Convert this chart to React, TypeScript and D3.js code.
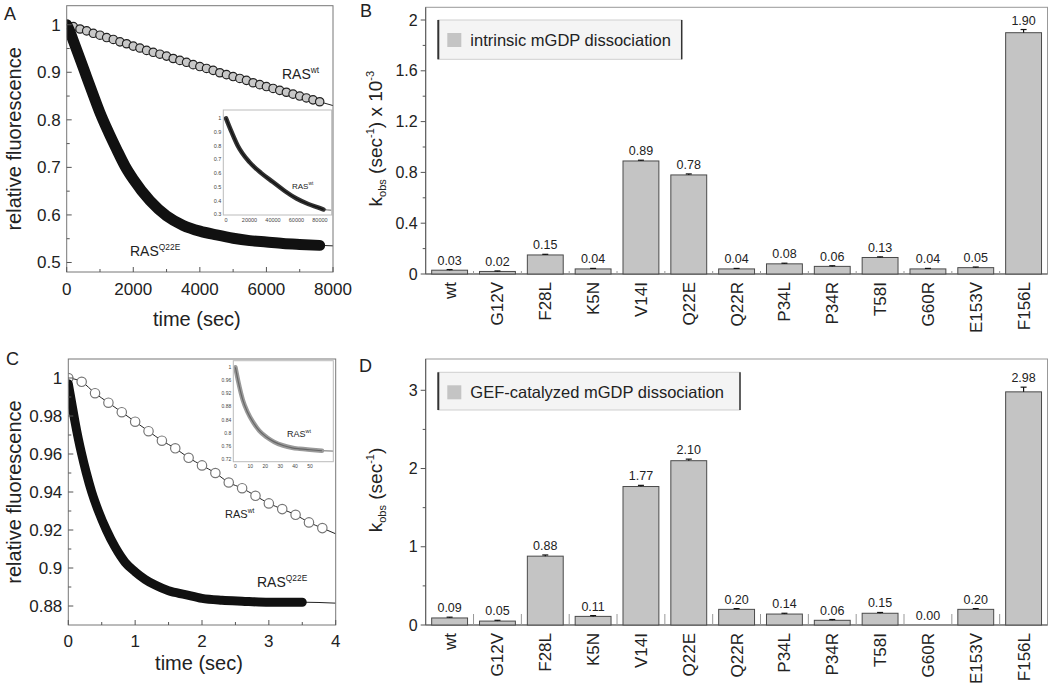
import React from "react";
import * as d3 from "d3";

const FONT = "'Liberation Sans', Arial, Helvetica, sans-serif";
const INK = "#222";

// ---- panel A: intrinsic mGDP dissociation traces ----
const aWtTime = [0, 200, 400, 600, 800, 1000, 1200, 1400, 1600, 1800, 2000, 2200, 2400, 2600, 2800, 3000, 3200, 3400, 3600, 3800, 4000, 4200, 4400, 4600, 4800, 5000, 5200, 5400, 5600, 5800, 6000, 6200, 6400, 6600, 6800, 7000, 7200, 7400, 7600];
const aWtValue = [1.0, 0.996, 0.991, 0.987, 0.982, 0.978, 0.973, 0.969, 0.964, 0.96, 0.955, 0.951, 0.946, 0.942, 0.938, 0.934, 0.929, 0.925, 0.921, 0.916, 0.912, 0.908, 0.904, 0.899, 0.895, 0.891, 0.887, 0.883, 0.878, 0.874, 0.87, 0.866, 0.862, 0.858, 0.854, 0.85, 0.846, 0.842, 0.838];
const aWtFitEnd = [8000, 0.83];

const aQ22ETime = [0, 100, 200, 400, 600, 800, 1000, 1250, 1500, 1750, 2000, 2500, 3000, 3500, 4000, 4500, 5000, 5500, 6000, 6500, 7000, 7600];
const aQ22EValue = [1.0, 0.985, 0.966, 0.928, 0.89, 0.852, 0.815, 0.775, 0.738, 0.703, 0.675, 0.63, 0.598, 0.578, 0.566, 0.558, 0.551, 0.546, 0.543, 0.54, 0.538, 0.536];
const aQ22EFitEnd = [8000, 0.535];

// inset of A: wt over the long run
const aInsetTime = [0, 5000, 10000, 20000, 30000, 40000, 50000, 60000, 70000, 80000, 83000];
const aInsetValue = [1.0, 0.895, 0.8, 0.68, 0.6, 0.535, 0.47, 0.415, 0.375, 0.345, 0.335];

// ---- panel C: GEF-catalyzed traces ----
const cWtTime = [0, 0.2, 0.4, 0.6, 0.8, 1.0, 1.2, 1.4, 1.6, 1.8, 2.0, 2.2, 2.4, 2.6, 2.8, 3.0, 3.2, 3.4, 3.6, 3.8];
const cWtValue = [1.0, 0.998, 0.992, 0.987, 0.982, 0.977, 0.972, 0.967, 0.963, 0.958, 0.954, 0.95, 0.945, 0.942, 0.938, 0.934, 0.931, 0.928, 0.924, 0.921];
const cWtFitEnd = [4, 0.918];

const cQ22ETime = [0, 0.03, 0.06, 0.1, 0.15, 0.2, 0.27, 0.35, 0.45, 0.57, 0.7, 0.85, 1.0, 1.15, 1.3, 1.5, 1.75, 2.0, 2.3, 2.6, 3.0, 3.5];
const cQ22EValue = [0.997, 0.991, 0.985, 0.977, 0.968, 0.96, 0.95, 0.94, 0.93, 0.92, 0.911, 0.903, 0.898, 0.894, 0.891, 0.888, 0.886, 0.884, 0.883, 0.8825, 0.882, 0.882];
const cQ22EFitEnd = [4, 0.8815];

const cInsetTime = [0, 2, 5, 8, 12, 16, 21, 26, 32, 38, 43, 50, 58];
const cInsetValue = [1.0, 0.955, 0.9, 0.865, 0.832, 0.807, 0.787, 0.773, 0.762, 0.755, 0.752, 0.749, 0.746];

// ---- panels B and D: rate constants ----
const mutants = ["wt", "G12V", "F28L", "K5N", "V14I", "Q22E", "Q22R", "P34L", "P34R", "T58I", "G60R", "E153V", "F156L"];
const intrinsicK = [0.03, 0.02, 0.15, 0.04, 0.89, 0.78, 0.04, 0.08, 0.06, 0.13, 0.04, 0.05, 1.9];
const intrinsicErr = [0.005, 0.004, 0.005, 0.004, 0.006, 0.008, 0.004, 0.005, 0.005, 0.005, 0.004, 0.005, 0.025];
const intrinsicLabels = ["0.03", "0.02", "0.15", "0.04", "0.89", "0.78", "0.04", "0.08", "0.06", "0.13", "0.04", "0.05", "1.90"];
const gefK = [0.09, 0.05, 0.88, 0.11, 1.77, 2.1, 0.2, 0.14, 0.06, 0.15, 0.0, 0.2, 2.98];
const gefErr = [0.01, 0.01, 0.015, 0.01, 0.015, 0.02, 0.01, 0.01, 0.01, 0.01, 0, 0.01, 0.06];
const gefLabels = ["0.09", "0.05", "0.88", "0.11", "1.77", "2.10", "0.20", "0.14", "0.06", "0.15", "0.00", "0.20", "2.98"];

type Pt = [number, number];
const zip = (t: number[], v: number[]): Pt[] => t.map((d, i) => [d, v[i]] as Pt);
const trim = (v: number) => String(+v.toFixed(3));

function Ras({ x, y, size, sup }: { x: number; y: number; size: number; sup: string }) {
  return (
    <text x={x} y={y} fontSize={size} fill={INK}>
      RAS
      <tspan fontSize={size * 0.6} dy={-size * 0.45}>{sup}</tspan>
    </text>
  );
}

function Inset(p: any) {
  const x = d3.scaleLinear().domain(p.xDomain).range([p.left, p.right]);
  const y = d3.scaleLinear().domain(p.yDomain).range([p.bottom, p.top]);
  const line = d3.line<Pt>().x((d) => x(d[0])).y((d) => y(d[1])).curve(d3.curveMonotoneX);
  const pts = zip(p.time, p.value);
  const clipId = "inset" + p.id;
  return (
    <g>
      <defs>
        <clipPath id={clipId}>
          <rect x={p.left} y={p.top} width={p.right - p.left} height={p.bottom - p.top} />
        </clipPath>
      </defs>
      <rect x={p.left} y={p.top} width={p.right - p.left} height={p.bottom - p.top} fill="#fff" />
      <g clipPath={`url(#${clipId})`}>
        <path d={line([...pts, [p.xDomain[1], p.tail]])!} fill="none" stroke="#444" strokeWidth={0.8} />
        <path d={line(pts)!} fill="none" stroke={p.color} strokeWidth={p.width} strokeLinecap="round" />
        <path d={line(pts)!} fill="none" stroke={p.core} strokeWidth={1.2} />
      </g>
      <rect x={p.left} y={p.top} width={p.right - p.left} height={p.bottom - p.top} fill="none" stroke="#bbb" strokeWidth={1} />
      {p.yTicks.map((t: number) => (
        <text key={t} x={p.left - 2} y={y(t)} dy="0.35em" textAnchor="end" fontSize={p.font} fill="#444">{trim(t)}</text>
      ))}
      {p.xTicks.map((t: number) => (
        <text key={t} x={x(t)} y={p.bottom + p.font + 1} textAnchor="middle" fontSize={p.font} fill="#444">{t}</text>
      ))}
      <Ras x={p.labelX} y={p.labelY} size={p.labelSize} sup="wt" />
    </g>
  );
}

function KineticPanel(p: any) {
  const x = d3.scaleLinear().domain(p.xDomain).range([p.left, p.right]);
  const y = d3.scaleLinear().domain(p.yDomain).range([p.bottom, p.top]);
  const smooth = d3.line<Pt>().x((d) => x(d[0])).y((d) => y(d[1])).curve(d3.curveMonotoneX);
  const clipId = "clip" + p.id;
  return (
    <g>
      <defs>
        <clipPath id={clipId}>
          <rect x={p.left} y={p.top} width={p.right - p.left} height={p.bottom - p.top} />
        </clipPath>
      </defs>
      <g clipPath={`url(#${clipId})`}>
        <path d={smooth([...p.open, p.openEnd])!} fill="none" stroke={INK} strokeWidth={1} />
        <path d={smooth([...p.band, p.bandEnd])!} fill="none" stroke={INK} strokeWidth={1} />
        {p.open.map((d: Pt, i: number) => (
          <circle key={i} cx={x(d[0])} cy={y(d[1])} r={p.openR} fill={p.openFill} stroke={p.openStroke} strokeWidth={1.2} />
        ))}
        <path d={smooth(p.band)!} fill="none" stroke="#111" strokeWidth={p.bandW} strokeLinecap="round" strokeLinejoin="round" />
      </g>
      {p.inset && <Inset id={p.id} {...p.inset} />}
      <rect x={p.left} y={p.top} width={p.right - p.left} height={p.bottom - p.top} fill="none" stroke="#777" strokeWidth={1} />
      {p.xMinor.map((t: number) => (
        <line key={"xm" + t} x1={x(t)} x2={x(t)} y1={p.bottom} y2={p.bottom - 3} stroke="#555" />
      ))}
      {p.xMajor.map((t: number) => (
        <g key={"x" + t}>
          <line x1={x(t)} x2={x(t)} y1={p.bottom} y2={p.bottom - 5} stroke="#555" />
          <text x={x(t)} y={p.xLabelY} textAnchor="middle" fontSize={17} fill={INK}>{t}</text>
        </g>
      ))}
      {p.yMinor.map((t: number) => (
        <line key={"ym" + t} x1={p.left} x2={p.left + 3} y1={y(t)} y2={y(t)} stroke="#555" />
      ))}
      {p.yMajor.map((t: number) => (
        <g key={"y" + t}>
          <line x1={p.left} x2={p.left + 5} y1={y(t)} y2={y(t)} stroke="#555" />
          <text x={p.left - 6} y={y(t)} dy="0.35em" textAnchor="end" fontSize={17} fill={INK}>{trim(t)}</text>
        </g>
      ))}
      <text x={(p.left + p.right) / 2 - 3} y={p.xTitleY} textAnchor="middle" fontSize={20} fill={INK}>time (sec)</text>
      <g transform={`translate(21,${(p.top + p.bottom) / 2}) rotate(-90)`}>
        <text textAnchor="middle" fontSize={20} fill={INK}>relative fluorescence</text>
      </g>
      {p.notes.map((n: any, i: number) => (
        <Ras key={i} x={n.x} y={n.y} size={n.size} sup={n.sup} />
      ))}
    </g>
  );
}

function BarPanel(p: any) {
  const x = d3.scaleBand<string>().domain(mutants).range([p.left, p.right]).paddingInner(0.25).paddingOuter(0.125);
  const y = d3.scaleLinear().domain(p.yDomain).range([p.bottom, p.top]);
  const gap = (x.step() - x.bandwidth()) / 2;
  const cy = (p.top + p.bottom) / 2 - 2;
  const labelTop = p.bottom + 8;
  return (
    <g>
      <rect x={p.left} y={p.top} width={p.right - p.left} height={p.bottom - p.top} fill="none" stroke="#999" strokeWidth={1} />
      <line x1={p.left} x2={p.left} y1={p.top} y2={p.bottom} stroke="#555" />
      <line x1={p.left} x2={p.right} y1={p.bottom} y2={p.bottom} stroke="#555" />
      {p.yMinor.map((t: number) => (
        <line key={"m" + t} x1={p.left - 3} x2={p.left} y1={y(t)} y2={y(t)} stroke="#555" />
      ))}
      {p.yMajor.map((t: number) => (
        <g key={t}>
          <line x1={p.left - 5} x2={p.left} y1={y(t)} y2={y(t)} stroke="#555" />
          <text x={p.left - 8} y={y(t)} dy="0.35em" textAnchor="end" fontSize={16} fill={INK}>{trim(t)}</text>
        </g>
      ))}
      {mutants.slice(1).map((m) => (
        <line key={"s" + m} x1={x(m)! - gap} x2={x(m)! - gap} y1={p.bottom} y2={p.bottom - p.sepH} stroke="#999" />
      ))}
      {mutants.map((m, i) => {
        const bx = x(m)!;
        const cx = bx + x.bandwidth() / 2;
        const v = p.values[i];
        const e = p.errors[i];
        return (
          <g key={m}>
            {v > 0 && (
              <rect x={bx} y={y(v)} width={x.bandwidth()} height={y(0) - y(v)} fill="#c4c4c4" stroke="#4a4a4a" strokeWidth={1} />
            )}
            {e > 0 && (
              <g stroke="#111" strokeWidth={1.2}>
                <line x1={cx} x2={cx} y1={y(v)} y2={y(v + e)} />
                <line x1={cx - 3} x2={cx + 3} y1={y(v + e)} y2={y(v + e)} />
              </g>
            )}
            <text x={cx} y={y(v + e) - 5} textAnchor="middle" fontSize={12.5} fill={INK}>{p.labels[i]}</text>
          </g>
        );
      })}
      {mutants.map((m) => {
        const cx = x(m)! + x.bandwidth() / 2 + 6;
        return (
          <text
            key={"lab" + m}
            x={0}
            y={0}
            transform={`matrix(0,-1,1,0,${cx},${labelTop})`}
            textAnchor="end"
            fontSize={17}
            fill={INK}
          >
            {m}
          </text>
        );
      })}
      <rect x={p.legend.x} y={p.legend.y} width={p.legend.w} height={p.legend.h} fill="#f4f4f4" stroke="#cfcfcf" />
      <line x1={p.legend.x} x2={p.legend.x} y1={p.legend.y} y2={p.legend.y + p.legend.h} stroke="#333" strokeWidth={2} />
      <line x1={p.legend.x + p.legend.w} x2={p.legend.x + p.legend.w} y1={p.legend.y} y2={p.legend.y + p.legend.h} stroke="#333" strokeWidth={1.5} />
      <rect x={p.legend.x + 9} y={p.legend.y + 13} width={14} height={14} fill="#c4c4c4" />
      <text x={p.legend.x + 32} y={p.legend.y + 26} fontSize={16.5} fill={INK}>{p.legend.text}</text>
      <g transform={`translate(${p.titleX},${cy}) rotate(-90)`}>
        <text textAnchor="middle" fontSize={19} fill={INK}>
          <tspan>k</tspan>
          <tspan fontSize={11} dy={4}>obs</tspan>
          <tspan dy={-4}> (sec</tspan>
          <tspan fontSize={11} dy={-8}>-1</tspan>
          <tspan dy={8}>){p.titleTail}</tspan>
          {p.titleSup && <tspan fontSize={11} dy={-8}>{p.titleSup}</tspan>}
        </text>
      </g>
    </g>
  );
}

export default function App() {
  return (
    <svg width={1050} height={687} fontFamily={FONT} style={{ position: "absolute", left: 0, top: 0, background: "#fff" }}>
      <rect width={1050} height={687} fill="#fff" />
      <KineticPanel
        id="A"
        left={66.7} right={333} top={5.7} bottom={272}
        xDomain={[0, 8000]} yDomain={[0.48, 1.04]}
        xMajor={[0, 2000, 4000, 6000, 8000]} xMinor={[1000, 3000, 5000, 7000]}
        yMajor={[0.5, 0.6, 0.7, 0.8, 0.9, 1]} yMinor={[0.55, 0.65, 0.75, 0.85, 0.95]}
        open={zip(aWtTime, aWtValue)} openEnd={aWtFitEnd} openR={4.2} openFill="#c8c8c8" openStroke="#222"
        band={zip(aQ22ETime, aQ22EValue)} bandEnd={aQ22EFitEnd} bandW={11}
        xLabelY={295} xTitleY={326}
        notes={[
          { x: 282, y: 79, size: 14, sup: "wt" },
          { x: 130, y: 256, size: 14, sup: "Q22E" },
        ]}
        inset={{
          left: 223.3, right: 331.7, top: 110, bottom: 215,
          xDomain: [-2300, 90000], yDomain: [0.295, 1.06],
          time: aInsetTime, value: aInsetValue, tail: 0.33,
          color: "#333", core: "#111", width: 4.5,
          yTicks: [0.3, 0.4, 0.5, 0.6, 0.7, 0.8, 0.9, 1], xTicks: [0, 20000, 40000, 60000, 80000],
          font: 5.5, labelX: 292, labelY: 189, labelSize: 8,
        }}
      />
      <KineticPanel
        id="C"
        left={68.3} right={335.7} top={359} bottom={625}
        xDomain={[0, 4]} yDomain={[0.87, 1.01]}
        xMajor={[0, 1, 2, 3, 4]} xMinor={[0.5, 1.5, 2.5, 3.5]}
        yMajor={[0.88, 0.9, 0.92, 0.94, 0.96, 0.98, 1]} yMinor={[0.89, 0.91, 0.93, 0.95, 0.97, 0.99]}
        open={zip(cWtTime, cWtValue)} openEnd={cWtFitEnd} openR={4.7} openFill="#fff" openStroke="#777"
        band={zip(cQ22ETime, cQ22EValue)} bandEnd={cQ22EFitEnd} bandW={9}
        xLabelY={647} xTitleY={670}
        notes={[
          { x: 225, y: 518, size: 11, sup: "wt" },
          { x: 257, y: 587, size: 14, sup: "Q22E" },
        ]}
        inset={{
          left: 233.3, right: 333.3, top: 360.7, bottom: 461.7,
          xDomain: [-1.4, 65.6], yDomain: [0.7127, 1.02],
          time: cInsetTime, value: cInsetValue, tail: 0.745,
          color: "#9a9a9a", core: "#666", width: 4.5,
          yTicks: [0.72, 0.76, 0.8, 0.84, 0.88, 0.92, 0.96, 1], xTicks: [0, 10, 20, 30, 40, 50],
          font: 5, labelX: 287, labelY: 437, labelSize: 9,
        }}
      />
      <BarPanel
        left={425.7} right={1047.5} top={7.3} bottom={274} titleX={382}
        yDomain={[0, 2.1]} yMajor={[0, 0.4, 0.8, 1.2, 1.6, 2]} yMinor={[0.2, 0.6, 1.0, 1.4, 1.8]}
        values={intrinsicK} errors={intrinsicErr} labels={intrinsicLabels} sepH={3}
        legend={{ x: 438.3, y: 20, w: 243.4, h: 39.3, text: "intrinsic mGDP dissociation" }}
        titleTail=" x 10" titleSup="-3"
      />
      <BarPanel
        left={425.7} right={1047.5} top={359} bottom={625} titleX={382}
        yDomain={[0, 3.4]} yMajor={[0, 1, 2, 3]} yMinor={[0.5, 1.5, 2.5]}
        values={gefK} errors={gefErr} labels={gefLabels} sepH={11}
        legend={{ x: 438.3, y: 372.3, w: 301.7, h: 37.7, text: "GEF-catalyzed mGDP dissociation" }}
        titleTail="" titleSup={null}
      />
      <text x={4} y={20} fontSize={18} fill={INK}>A</text>
      <text x={360} y={17} fontSize={18} fill={INK}>B</text>
      <text x={6} y={365} fontSize={18} fill={INK}>C</text>
      <text x={359} y={372} fontSize={18} fill={INK}>D</text>
    </svg>
  );
}
